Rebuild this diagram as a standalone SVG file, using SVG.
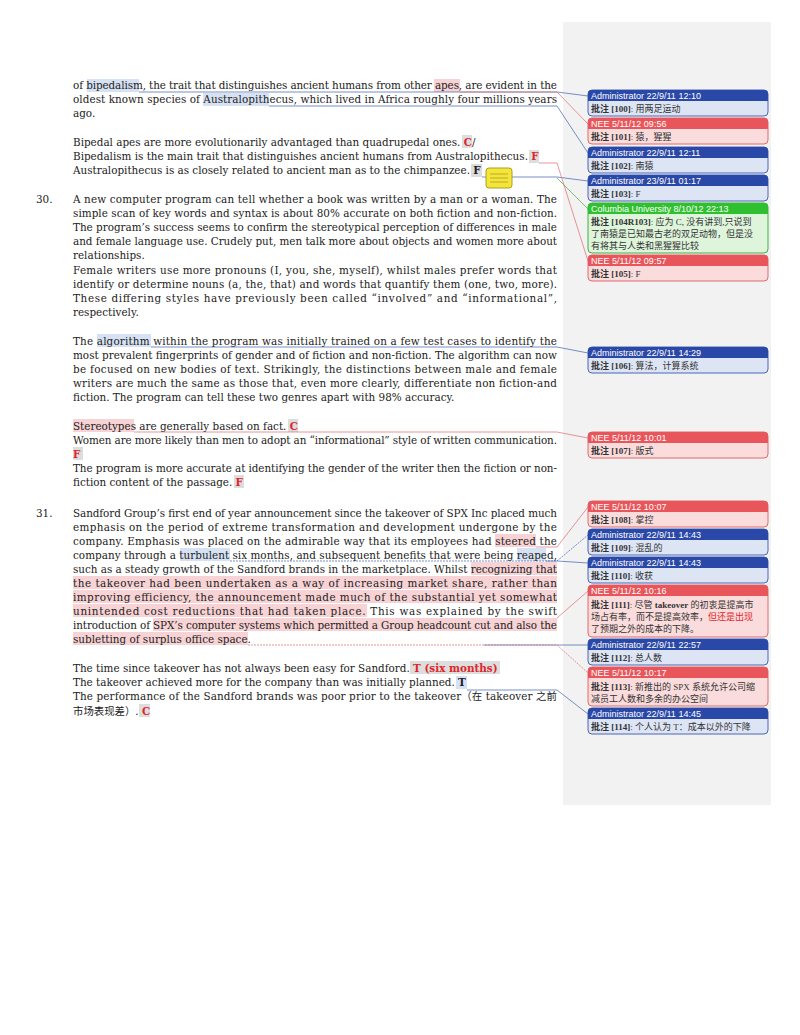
<svg xmlns="http://www.w3.org/2000/svg" width="800" height="1035" viewBox="0 0 800 1035">
<style>
.t{font-family:"DejaVu Serif","Noto Sans CJK SC",serif;font-size:10.4px;fill:#222}
.r{fill:#e0262b;font-weight:bold}
.hb{fill:#d6e2f4}.hr{fill:#f8d3d5}.hg{fill:#ddd}
.hd{font-family:"Liberation Sans",sans-serif;font-size:9px;fill:#fff}
.bd{font-family:"Liberation Serif","Noto Sans CJK SC",serif;font-size:9px;fill:#333}
.cb{stroke:#4060b0;stroke-width:0.7;fill:none}
.cr{stroke:#e06a6d;stroke-width:0.7;fill:none}
.cg{stroke:#40b040;stroke-width:0.7;fill:none}
</style>
<rect width="800" height="1035" fill="#fff"/>
<rect x="563" y="22" width="208" height="783" fill="#f2f2f2"/>
<g id="highlights">
<rect class="hb" x="87" y="79" width="52" height="13"/>
<rect class="hr" x="434" y="79" width="26" height="13"/>
<rect class="hb" x="203" y="93" width="66" height="13"/>
<rect class="hg" x="462" y="135" width="10" height="13"/>
<rect class="hg" x="529" y="150" width="10" height="13"/>
<rect class="hg" x="471" y="164" width="11" height="13"/>
<rect class="hb" x="97" y="334" width="54" height="13"/>
<rect class="hr" x="73" y="419" width="61" height="13"/>
<rect class="hg" x="288" y="419" width="10" height="13"/>
<rect class="hg" x="73" y="447" width="10" height="13"/>
<rect class="hg" x="234" y="475" width="10" height="13"/>
<rect class="hr" x="495" y="534" width="41" height="13"/>
<rect class="hb" x="180" y="548" width="50" height="13"/>
<rect class="hb" x="517" y="548" width="29" height="13"/>
<rect class="hr" x="471" y="562" width="86" height="13"/>
<rect class="hr" x="73" y="576" width="484" height="13"/>
<rect class="hr" x="73" y="590" width="484" height="13"/>
<rect class="hr" x="73" y="604" width="294" height="13"/>
<rect class="hr" x="153" y="618" width="404" height="13"/>
<rect class="hr" x="73" y="632" width="175" height="13"/>
<rect class="hg" x="410" y="661" width="90" height="13"/>
<rect class="hb" x="456" y="676" width="11" height="13"/>
<rect class="hg" x="139" y="704" width="11" height="13"/>
</g>
<g id="connectors">
<polyline class="cb" points="139,92 557,92 588,96"/>
<polyline class="cr" points="460,92 557,92 588,124"/>
<polyline class="cb" points="269,106 557,106 588,153"/>
<polyline class="cb" points="482,177 557,177 588,181"/>
<polyline class="cg" points="557,178 588,209"/>
<polyline class="cr" points="539,163 557,163 588,261"/>
<polyline class="cb" points="151,347 557,347 588,353"/>
<polyline class="cr" points="134,432 557,432 588,438"/>
<polyline class="cr" points="536,547 557,547 588,507"/>
<polyline class="cb" points="230,561 557,561 588,535" stroke-dasharray="2,1"/>
<polyline class="cb" points="546,561 557,561 588,563"/>
<polyline class="cr" points="557,618 588,591"/>
<polyline class="cb" points="484,645 557,645 588,645"/>
<polyline class="cr" points="248,645 557,645 588,673" stroke-dasharray="2,1"/>
<polyline class="cb" points="467,690 557,690 588,714"/>
</g>
<g id="note"><rect x="486" y="168" width="26" height="20" rx="3" fill="#f5e53a" stroke="#a8a020"/><path d="M490,174h18M490,178h18M490,182h18" stroke="#a8a020" stroke-width="0.8"/></g>
<g id="body" class="t">
<text x="73" y="89" textLength="484" lengthAdjust="spacing">of bipedalism, the trait that distinguishes ancient humans from other apes, are evident in the</text>
<text x="73" y="103" textLength="484" lengthAdjust="spacing">oldest known species of Australopithecus, which lived in Africa roughly four millions years</text>
<text x="73" y="117">ago.</text>
<text x="73" y="146">Bipedal apes are more evolutionarily advantaged than quadrupedal ones.  <tspan class="r">C</tspan>/</text>
<text x="73" y="160"> Bipedalism is the main trait that distinguishes ancient humans from Australopithecus. <tspan class="r">F</tspan></text>
<text x="73" y="174">Australopithecus is as closely related to ancient man as to the chimpanzee. <tspan font-weight="bold">F</tspan></text>
<text x="36" y="203">30.</text>
<text x="73" y="203" textLength="484" lengthAdjust="spacing">A new computer program can tell whether a book was written by a man or a woman. The</text>
<text x="73" y="217" textLength="484" lengthAdjust="spacing">simple scan of key words and syntax is about 80% accurate on both fiction and non-fiction.</text>
<text x="73" y="231" textLength="484" lengthAdjust="spacing">The program’s success seems to confirm the stereotypical perception of differences in male</text>
<text x="73" y="245" textLength="484" lengthAdjust="spacing">and female language use. Crudely put, men talk more about objects and women more about</text>
<text x="73" y="259">relationships.</text>
<text x="73" y="274" textLength="484" lengthAdjust="spacing">Female writers use more pronouns (I, you, she, myself), whilst males prefer words that</text>
<text x="73" y="288" textLength="484" lengthAdjust="spacing">identify or determine nouns (a, the, that) and words that quantify them (one, two, more).</text>
<text x="73" y="302" textLength="484" lengthAdjust="spacing">These differing styles have previously been called “involved” and “informational”,</text>
<text x="73" y="316">respectively.</text>
<text x="73" y="345" textLength="484" lengthAdjust="spacing">The algorithm within the program was initially trained on a few test cases to identify the</text>
<text x="73" y="359" textLength="484" lengthAdjust="spacing">most prevalent fingerprints of gender and of fiction and non-fiction. The algorithm can now</text>
<text x="73" y="373" textLength="484" lengthAdjust="spacing">be focused on new bodies of text. Strikingly, the distinctions between male and female</text>
<text x="73" y="387" textLength="484" lengthAdjust="spacing">writers are much the same as those that, even more clearly, differentiate non fiction-and</text>
<text x="73" y="401">fiction. The program can tell these two genres apart with 98% accuracy.</text>
<text x="73" y="430">Stereotypes are generally based on fact.  <tspan class="r">C</tspan></text>
<text x="73" y="444" textLength="484" lengthAdjust="spacing">Women are more likely than men to adopt an “informational” style of written communication.</text>
<text x="73" y="458" class="r">F</text>
<text x="73" y="472" textLength="484" lengthAdjust="spacing">The program is more accurate at identifying the gender of the writer then the fiction or non-</text>
<text x="73" y="486">fiction content of the passage. <tspan class="r">F</tspan></text>
<text x="36" y="517">31.</text>
<text x="73" y="517" textLength="484" lengthAdjust="spacing">Sandford Group’s first end of year announcement since the takeover of SPX Inc placed much</text>
<text x="73" y="531" textLength="484" lengthAdjust="spacing">emphasis on the period of extreme transformation and development undergone by the</text>
<text x="73" y="545" textLength="484" lengthAdjust="spacing">company. Emphasis was placed on the admirable way that its employees had steered the</text>
<text x="73" y="559" textLength="484" lengthAdjust="spacing">company through a turbulent six months, and subsequent benefits that were being reaped,</text>
<text x="73" y="573" textLength="484" lengthAdjust="spacing">such as a steady growth of the Sandford brands in the marketplace. Whilst recognizing that</text>
<text x="73" y="587" textLength="484" lengthAdjust="spacing">the takeover had been undertaken as a way of increasing market share, rather than</text>
<text x="73" y="601" textLength="484" lengthAdjust="spacing">improving efficiency, the announcement made much of the substantial yet somewhat</text>
<text x="73" y="615" textLength="484" lengthAdjust="spacing">unintended cost reductions that had taken place. This was explained by the swift</text>
<text x="73" y="629" textLength="484" lengthAdjust="spacing">introduction of SPX’s computer systems which permitted a Group headcount cut and also the</text>
<text x="73" y="643">subletting of surplus office space.</text>
<text x="73" y="672">The time since takeover has not always been easy for Sandford. <tspan class="r">T (six months)</tspan></text>
<text x="73" y="686">The takeover achieved more for the company than was initially planned. <tspan font-weight="bold">T</tspan></text>
<text x="73" y="700" textLength="484" lengthAdjust="spacing">The performance of the Sandford brands was poor prior to the takeover（在 takeover 之前</text>
<text x="73" y="715">市场表现差）. <tspan class="r">C</tspan></text>
</g>
<g id="c100"><rect x="588" y="90" width="180" height="26" rx="4" fill="#dde5f5" stroke="#4a66b8"/><path d="M588,101V94a4,4 0 0 1 4,-4h172a4,4 0 0 1 4,4v7z" fill="#2a48a8"/><text class="hd" x="591" y="99">Administrator 22/9/11 12:10</text><text class="bd" x="591" y="112"><tspan font-weight="bold">批注 [100]</tspan>: 用两足运动</text></g>
<g id="c101"><rect x="588" y="118" width="180" height="26" rx="4" fill="#fadcdc" stroke="#e06a6d"/><path d="M588,129V122a4,4 0 0 1 4,-4h172a4,4 0 0 1 4,4v7z" fill="#e8555a"/><text class="hd" x="591" y="127">NEE 5/11/12 09:56</text><text class="bd" x="591" y="140"><tspan font-weight="bold">批注 [101]</tspan>: 猿，猩猩</text></g>
<g id="c102"><rect x="588" y="147" width="180" height="26" rx="4" fill="#dde5f5" stroke="#4a66b8"/><path d="M588,158V151a4,4 0 0 1 4,-4h172a4,4 0 0 1 4,4v7z" fill="#2a48a8"/><text class="hd" x="591" y="156">Administrator 22/9/11 12:11</text><text class="bd" x="591" y="169"><tspan font-weight="bold">批注 [102]</tspan>: 南猿</text></g>
<g id="c103"><rect x="588" y="175" width="180" height="26" rx="4" fill="#dde5f5" stroke="#4a66b8"/><path d="M588,186V179a4,4 0 0 1 4,-4h172a4,4 0 0 1 4,4v7z" fill="#2a48a8"/><text class="hd" x="591" y="184">Administrator 23/9/11 01:17</text><text class="bd" x="591" y="197"><tspan font-weight="bold">批注 [103]</tspan>: F</text></g>
<g id="c104"><rect x="588" y="203" width="180" height="50" rx="4" fill="#def5dc" stroke="#40b040"/><path d="M588,214V207a4,4 0 0 1 4,-4h172a4,4 0 0 1 4,4v7z" fill="#2fc02f"/><text class="hd" x="591" y="212">Columbia University 8/10/12 22:13</text><text class="bd" x="591" y="225"><tspan font-weight="bold">批注 [104R103]</tspan>: 应为 C, 没有讲到,只说到</text><text class="bd" x="591" y="237">了南猿是已知最古老的双足动物，但是没</text><text class="bd" x="591" y="249">有将其与人类和黑猩猩比较</text></g>
<g id="c105"><rect x="588" y="255" width="180" height="26" rx="4" fill="#fadcdc" stroke="#e06a6d"/><path d="M588,266V259a4,4 0 0 1 4,-4h172a4,4 0 0 1 4,4v7z" fill="#e8555a"/><text class="hd" x="591" y="264">NEE 5/11/12 09:57</text><text class="bd" x="591" y="277"><tspan font-weight="bold">批注 [105]</tspan>: F</text></g>
<g id="c106"><rect x="588" y="347" width="180" height="26" rx="4" fill="#dde5f5" stroke="#4a66b8"/><path d="M588,358V351a4,4 0 0 1 4,-4h172a4,4 0 0 1 4,4v7z" fill="#2a48a8"/><text class="hd" x="591" y="356">Administrator 22/9/11 14:29</text><text class="bd" x="591" y="369"><tspan font-weight="bold">批注 [106]</tspan>: 算法，计算系统</text></g>
<g id="c107"><rect x="588" y="432" width="180" height="26" rx="4" fill="#fadcdc" stroke="#e06a6d"/><path d="M588,443V436a4,4 0 0 1 4,-4h172a4,4 0 0 1 4,4v7z" fill="#e8555a"/><text class="hd" x="591" y="441">NEE 5/11/12 10:01</text><text class="bd" x="591" y="454"><tspan font-weight="bold">批注 [107]</tspan>: 版式</text></g>
<g id="c108"><rect x="588" y="501" width="180" height="26" rx="4" fill="#fadcdc" stroke="#e06a6d"/><path d="M588,512V505a4,4 0 0 1 4,-4h172a4,4 0 0 1 4,4v7z" fill="#e8555a"/><text class="hd" x="591" y="510">NEE 5/11/12 10:07</text><text class="bd" x="591" y="523"><tspan font-weight="bold">批注 [108]</tspan>: 掌控</text></g>
<g id="c109"><rect x="588" y="529" width="180" height="26" rx="4" fill="#dde5f5" stroke="#4a66b8"/><path d="M588,540V533a4,4 0 0 1 4,-4h172a4,4 0 0 1 4,4v7z" fill="#2a48a8"/><text class="hd" x="591" y="538">Administrator 22/9/11 14:43</text><text class="bd" x="591" y="551"><tspan font-weight="bold">批注 [109]</tspan>: 混乱的</text></g>
<g id="c110"><rect x="588" y="557" width="180" height="26" rx="4" fill="#dde5f5" stroke="#4a66b8"/><path d="M588,568V561a4,4 0 0 1 4,-4h172a4,4 0 0 1 4,4v7z" fill="#2a48a8"/><text class="hd" x="591" y="566">Administrator 22/9/11 14:43</text><text class="bd" x="591" y="579"><tspan font-weight="bold">批注 [110]</tspan>: 收获</text></g>
<g id="c111"><rect x="588" y="585" width="180" height="52" rx="4" fill="#fadcdc" stroke="#e06a6d"/><path d="M588,596V589a4,4 0 0 1 4,-4h172a4,4 0 0 1 4,4v7z" fill="#e8555a"/><text class="hd" x="591" y="594">NEE 5/11/12 10:16</text><text class="bd" x="591" y="608"><tspan font-weight="bold">批注 [111]</tspan>: 尽管 <tspan font-weight="bold">takeover</tspan> 的初衷是提高市</text><text class="bd" x="591" y="620">场占有率，而不是提高效率，<tspan fill="#e0262b">但还是出现</tspan></text><text class="bd" x="591" y="632" fill="#e0262b">了预期之外的成本的下降。</text></g>
<g id="c112"><rect x="588" y="639" width="180" height="26" rx="4" fill="#dde5f5" stroke="#4a66b8"/><path d="M588,650V643a4,4 0 0 1 4,-4h172a4,4 0 0 1 4,4v7z" fill="#2a48a8"/><text class="hd" x="591" y="648">Administrator 22/9/11 22:57</text><text class="bd" x="591" y="661"><tspan font-weight="bold">批注 [112]</tspan>: 总人数</text></g>
<g id="c113"><rect x="588" y="667" width="180" height="39" rx="4" fill="#fadcdc" stroke="#e06a6d"/><path d="M588,678V671a4,4 0 0 1 4,-4h172a4,4 0 0 1 4,4v7z" fill="#e8555a"/><text class="hd" x="591" y="676">NEE 5/11/12 10:17</text><text class="bd" x="591" y="690"><tspan font-weight="bold">批注 [113]</tspan>: 新推出的 SPX 系统允许公司缩</text><text class="bd" x="591" y="702">减员工人数和多余的办公空间</text></g>
<g id="c114"><rect x="588" y="708" width="180" height="26" rx="4" fill="#dde5f5" stroke="#4a66b8"/><path d="M588,719V712a4,4 0 0 1 4,-4h172a4,4 0 0 1 4,4v7z" fill="#2a48a8"/><text class="hd" x="591" y="717">Administrator 22/9/11 14:45</text><text class="bd" x="591" y="730"><tspan font-weight="bold">批注 [114]</tspan>: 个人认为 T：成本以外的下降</text></g>
</svg>
